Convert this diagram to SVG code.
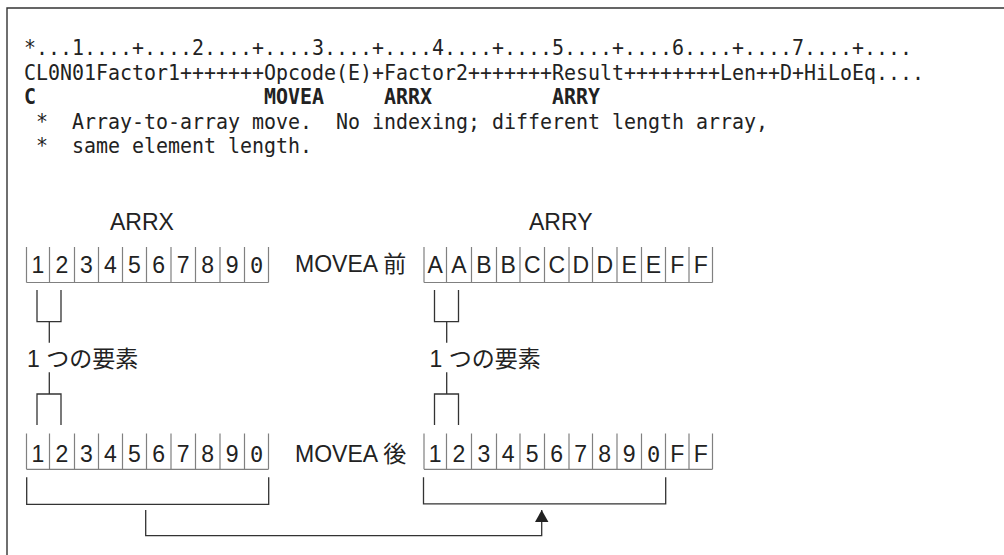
<svg xmlns="http://www.w3.org/2000/svg" width="1004" height="555" viewBox="0 0 1004 555">
<style>
.code{font-family:"DejaVu Sans Mono","Liberation Mono",monospace;font-size:21px;fill:#222;}
.b{font-weight:bold;}
.lbl{font-family:"Liberation Sans","Noto Sans CJK JP",sans-serif;font-size:23px;fill:#222;}
.cell{font-family:"Liberation Sans",Arial,sans-serif;font-size:23px;fill:#222;text-anchor:middle;}
.zero{font-family:"DejaVu Sans Mono",monospace;font-size:22px;fill:#222;text-anchor:middle;}
.grid{fill:none;stroke:#808080;stroke-width:1.2;}
.br{fill:none;stroke:#333;stroke-width:1.3;}
.frame{fill:none;stroke:#333;stroke-width:1.4;}
</style>
<defs>
<marker id="arr" markerWidth="13" markerHeight="14" refX="12" refY="6.75" orient="auto" markerUnits="userSpaceOnUse">
<path d="M0,0 L12,6.75 L0,13.5 Z" fill="#222"/>
</marker>
</defs>
<rect width="1004" height="555" fill="#fff"/>
<path class="frame" d="M7,555 V8 H1004"/>

<g id="code">
<text class="code" x="24" y="55" textLength="888" lengthAdjust="spacingAndGlyphs" xml:space="preserve">*...1....+....2....+....3....+....4....+....5....+....6....+....7....+....</text>
<text class="code" x="24" y="79.5" textLength="900" lengthAdjust="spacingAndGlyphs" xml:space="preserve">CL0N01Factor1+++++++Opcode(E)+Factor2+++++++Result++++++++Len++D+HiLoEq....</text>
<text class="code b" x="24" y="104" textLength="12" lengthAdjust="spacingAndGlyphs">C</text>
<text class="code b" x="264" y="104" textLength="60" lengthAdjust="spacingAndGlyphs">MOVEA</text>
<text class="code b" x="384" y="104" textLength="48" lengthAdjust="spacingAndGlyphs">ARRX</text>
<text class="code b" x="552" y="104" textLength="48" lengthAdjust="spacingAndGlyphs">ARRY</text>
<text class="code" x="24" y="128.5" textLength="744" lengthAdjust="spacingAndGlyphs" xml:space="preserve"> *  Array-to-array move.  No indexing; different length array,</text>
<text class="code" x="24" y="153" textLength="288" lengthAdjust="spacingAndGlyphs" xml:space="preserve"> *  same element length.</text>
</g>

<g id="label-arrx"><text class="lbl" x="110" y="230">ARRX</text></g>
<g id="label-arry"><text class="lbl" x="529" y="229.5">ARRY</text></g>
<g id="label-before"><text class="lbl" x="295" y="271.7">MOVEA 前</text></g>
<g id="label-after"><text class="lbl" x="295" y="461.7">MOVEA 後</text></g>
<g id="label-elem-x"><text class="lbl" x="27" y="367">1 つの要素</text></g>
<g id="label-elem-y"><text class="lbl" x="429.5" y="367">1 つの要素</text></g>

<g id="arrx-before">
<path class="grid" d="M26.5,247 V282.5 M49.5,247 V282.5 M74.5,247 V282.5 M98.5,247 V282.5 M122.5,247 V282.5 M146.5,247 V282.5 M171,247 V282.5 M195.5,247 V282.5 M220,247 V282.5 M244.5,247 V282.5 M268.5,247 V282.5 M26.5,282.5 H268.5"/>
<text class="cell" y="272.5"><tspan x="38">1</tspan><tspan x="62">2</tspan><tspan x="86.5">3</tspan><tspan x="110.5">4</tspan><tspan x="134.5">5</tspan><tspan x="158.75">6</tspan><tspan x="183.25">7</tspan><tspan x="207.75">8</tspan><tspan x="232.25">9</tspan></text>
<text class="zero" x="256.5" y="272.5">0</text>
</g>

<g id="arry-before">
<path class="grid" d="M424,247 V282.5 M446.5,247 V282.5 M471.5,247 V282.5 M496.5,247 V282.5 M520,247 V282.5 M544.5,247 V282.5 M569,247 V282.5 M592.5,247 V282.5 M617,247 V282.5 M641.5,247 V282.5 M665.5,247 V282.5 M689,247 V282.5 M712.5,247 V282.5 M424,282.5 H712.5"/>
<text class="cell" y="272.5"><tspan x="435.25">A</tspan><tspan x="459">A</tspan><tspan x="484">B</tspan><tspan x="508.25">B</tspan><tspan x="532.25">C</tspan><tspan x="556.75">C</tspan><tspan x="580.75">D</tspan><tspan x="604.75">D</tspan><tspan x="629.25">E</tspan><tspan x="653.5">E</tspan><tspan x="677.25">F</tspan><tspan x="700.75">F</tspan></text>
</g>

<g id="arrx-after">
<path class="grid" d="M26.5,433.5 V469.3 M49.5,433.5 V469.3 M74.5,433.5 V469.3 M98.5,433.5 V469.3 M122.5,433.5 V469.3 M146.5,433.5 V469.3 M171,433.5 V469.3 M195.5,433.5 V469.3 M220,433.5 V469.3 M244.5,433.5 V469.3 M268.5,433.5 V469.3 M26.5,469.3 H268.5"/>
<text class="cell" y="461.7"><tspan x="38">1</tspan><tspan x="62">2</tspan><tspan x="86.5">3</tspan><tspan x="110.5">4</tspan><tspan x="134.5">5</tspan><tspan x="158.75">6</tspan><tspan x="183.25">7</tspan><tspan x="207.75">8</tspan><tspan x="232.25">9</tspan></text>
<text class="zero" x="256.5" y="461.7">0</text>
</g>

<g id="arry-after">
<path class="grid" d="M424,433.5 V469.3 M446.5,433.5 V469.3 M471.5,433.5 V469.3 M496.5,433.5 V469.3 M520,433.5 V469.3 M544.5,433.5 V469.3 M569,433.5 V469.3 M592.5,433.5 V469.3 M617,433.5 V469.3 M641.5,433.5 V469.3 M665.5,433.5 V469.3 M689,433.5 V469.3 M712.5,433.5 V469.3 M424,469.3 H712.5"/>
<text class="cell" y="461.7"><tspan x="435.25">1</tspan><tspan x="459">2</tspan><tspan x="484">3</tspan><tspan x="508.25">4</tspan><tspan x="532.25">5</tspan><tspan x="556.75">6</tspan><tspan x="580.75">7</tspan><tspan x="604.75">8</tspan><tspan x="629.25">9</tspan><tspan x="677.25">F</tspan><tspan x="700.75">F</tspan></text>
<text class="zero" x="653.5" y="461.7">0</text>
</g>

<g id="connectors">
<path class="br" d="M37,290 V321.7 H61 V290 M49.3,321.7 V342.7"/>
<path class="br" d="M49.3,372.3 V394 M37,425 V394 H61 V425"/>
<path class="br" d="M434.5,290 V321.7 H458.5 V290 M446.7,321.7 V342.7"/>
<path class="br" d="M446.7,372.3 V394 M434.5,425 V394 H458.5 V425"/>
<path class="br" d="M26.7,477.3 V504.3 H268.7 V477.3"/>
<path class="br" d="M423.5,477.3 V503.8 H665.7 V477.3"/>
<path class="br" d="M145.7,510 V535.7 H541.7 V510" marker-end="url(#arr)"/>
</g>
</svg>
